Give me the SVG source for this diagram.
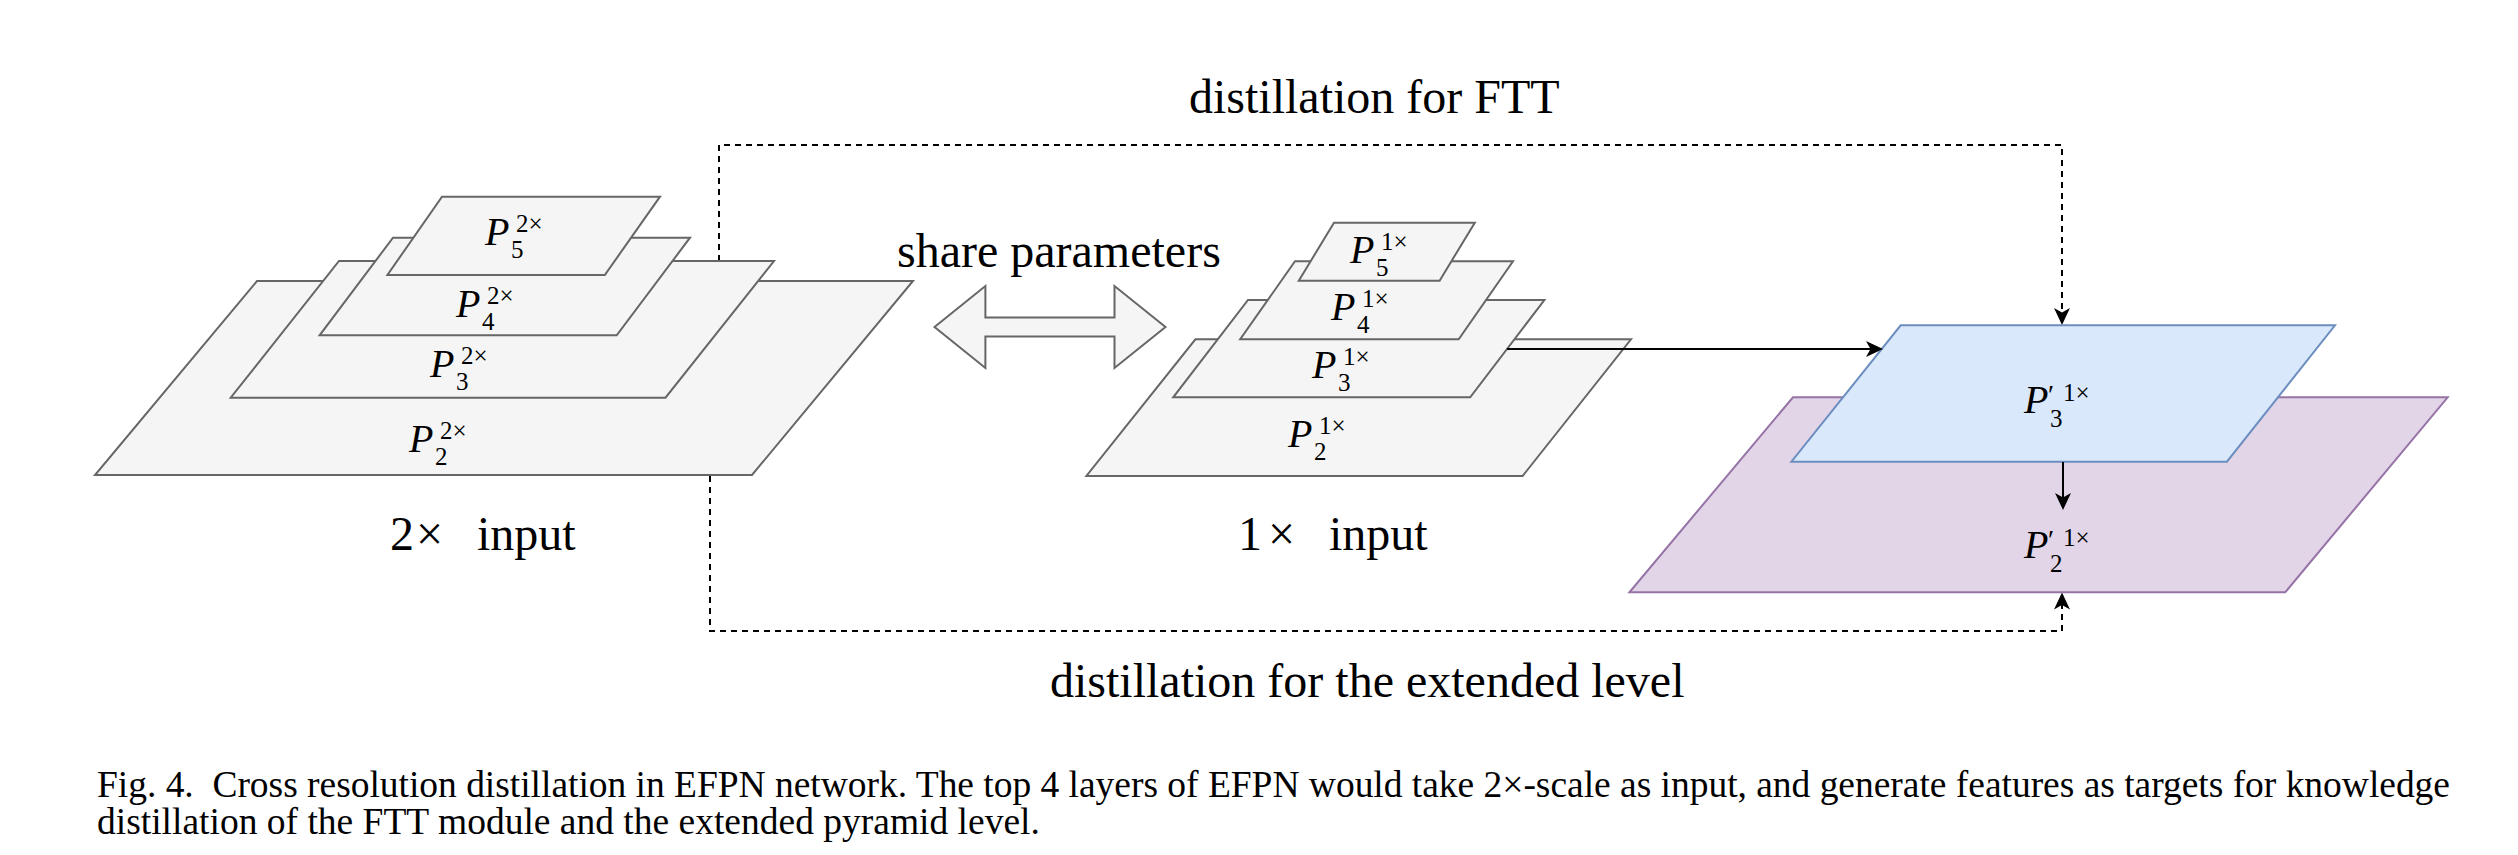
<svg xmlns="http://www.w3.org/2000/svg" width="2518" height="855" viewBox="0 0 2518 855">
<style>
  .gray { fill: #f5f5f5; stroke: #666666; stroke-width: 2; }
  .blue { fill: #dae8fc; stroke: #6c8ebf; stroke-width: 2; }
  .purple { fill: #e1d5e7; stroke: #9673a6; stroke-width: 2; }
  .lbl { font-family: "Liberation Serif", "Times New Roman", serif; fill: #000; }
  .P { font-style: italic; font-size: 40px; }
  .s { font-size: 25px; }
  .pr { font-size: 28px; }
  .big { font-family: "Liberation Serif", "Times New Roman", serif; font-size: 48px; fill: #000; }
  .cap { font-family: "Liberation Serif", "Times New Roman", serif; font-size: 37.5px; fill: #000; }
  .dash { fill: none; stroke: #000; stroke-width: 2; stroke-dasharray: 6 5; }
  .solid { fill: none; stroke: #000; stroke-width: 2; }
</style>
<defs>
  <marker id="arr" markerUnits="userSpaceOnUse" markerWidth="20" markerHeight="18" refX="12" refY="8" orient="auto">
    <path d="M1,0 L18,8 L1,16 L5.5,8 Z" fill="#000" stroke="none"/>
  </marker>
</defs>

<!-- connectors -->
<g id="connectors">
  <path class="dash" d="M719,261 V145 H2062 V319" marker-end="url(#arr)"/>
  <path class="dash" d="M710,476 V631 H2062 V598.5" marker-end="url(#arr)"/>
</g>

<!-- 2x pyramid -->
<g id="p2-2x">
  <polygon class="gray" points="257,281 913,281 752,475 95,475"/>
  <text class="lbl"><tspan class="P" x="409" y="452">P</tspan><tspan class="s" x="435" y="465">2</tspan><tspan class="s" x="440" y="439">2×</tspan></text>
</g>
<g id="p3-2x">
  <polygon class="gray" points="339,261 774,261 665.5,397.7 230.7,397.7"/>
  <text class="lbl"><tspan class="P" x="430" y="377">P</tspan><tspan class="s" x="456" y="390">3</tspan><tspan class="s" x="461" y="364">2×</tspan></text>
</g>
<g id="p4-2x">
  <polygon class="gray" points="393,237.7 690,237.7 616.7,335.3 319.6,335.3"/>
  <text class="lbl"><tspan class="P" x="456" y="317">P</tspan><tspan class="s" x="482" y="330">4</tspan><tspan class="s" x="487" y="304">2×</tspan></text>
</g>
<g id="p5-2x">
  <polygon class="gray" points="442,196.7 660,196.7 604.8,275 387.4,275"/>
  <text class="lbl"><tspan class="P" x="485" y="245">P</tspan><tspan class="s" x="511" y="258">5</tspan><tspan class="s" x="516" y="232">2×</tspan></text>
</g>
<g id="label-2x-input">
  <text class="big"><tspan x="390" y="550">2</tspan><tspan x="416" y="550">×</tspan><tspan x="477" y="550">input</tspan></text>
</g>

<!-- share parameters -->
<g id="share">
  <polygon class="gray" points="934.5,327 985.4,286 985.4,317.5 1114.5,317.5 1114.5,286 1165.5,327 1114.5,368 1114.5,336.5 985.4,336.5 985.4,368"/>
  <text class="big" x="897" y="267">share parameters</text>
</g>

<!-- 1x pyramid -->
<g id="p2-1x">
  <polygon class="gray" points="1195.4,339.3 1631,339.3 1522.6,476 1086.4,476"/>
  <text class="lbl"><tspan class="P" x="1288" y="447">P</tspan><tspan class="s" x="1314" y="460">2</tspan><tspan class="s" x="1319" y="434">1×</tspan></text>
</g>
<g id="p3-1x">
  <polygon class="gray" points="1248,300 1544.4,300 1470.2,397.3 1173.2,397.3"/>
  <text class="lbl"><tspan class="P" x="1312" y="378">P</tspan><tspan class="s" x="1338" y="391">3</tspan><tspan class="s" x="1343" y="365">1×</tspan></text>
</g>
<g id="p4-1x">
  <polygon class="gray" points="1295,261.3 1513,261.3 1458.7,339.3 1240.2,339.3"/>
  <text class="lbl"><tspan class="P" x="1331" y="320">P</tspan><tspan class="s" x="1357" y="333">4</tspan><tspan class="s" x="1362" y="307">1×</tspan></text>
</g>
<g id="p5-1x">
  <polygon class="gray" points="1334,222.7 1474.8,222.7 1439.6,280.7 1298.8,280.7"/>
  <text class="lbl"><tspan class="P" x="1350" y="263">P</tspan><tspan class="s" x="1376" y="276">5</tspan><tspan class="s" x="1381" y="250">1×</tspan></text>
</g>
<g id="label-1x-input">
  <text class="big"><tspan x="1238" y="550">1</tspan><tspan x="1268" y="550">×</tspan><tspan x="1329" y="550">input</tspan></text>
</g>

<!-- right side -->
<g id="p2-prime">
  <polygon class="purple" points="1793,397.3 2447.7,397.3 2285.2,592.3 1629.4,592.3"/>
  <text class="lbl"><tspan class="P" x="2024" y="558">P</tspan><tspan class="s" x="2050" y="572">2</tspan><tspan class="pr" x="2048" y="549">′</tspan><tspan class="s" x="2063" y="546">1×</tspan></text>
</g>
<g id="p3-prime">
  <polygon class="blue" points="1900.7,325.3 2335,325.3 2226.9,461.7 1791.4,461.7"/>
  <text class="lbl"><tspan class="P" x="2024" y="413">P</tspan><tspan class="s" x="2050" y="427">3</tspan><tspan class="pr" x="2048" y="404">′</tspan><tspan class="s" x="2063" y="401">1×</tspan></text>
</g>

<g id="connectors-solid">
  <path class="solid" d="M1507,349 H1877" marker-end="url(#arr)"/>
  <path class="solid" d="M2063,462 V504" marker-end="url(#arr)"/>
</g>

<g id="titles">
  <text class="big" x="1189" y="113">distillation for FTT</text>
  <text class="big" x="1050" y="697">distillation for the extended level</text>
</g>

<g id="caption">
  <text class="cap" x="97" y="797" textLength="2353" lengthAdjust="spacing">Fig. 4.&#160; Cross resolution distillation in EFPN network. The top 4 layers of EFPN would take 2×-scale as input, and generate features as targets for knowledge</text>
  <text class="cap" x="97" y="834">distillation of the FTT module and the extended pyramid level.</text>
</g>
</svg>
